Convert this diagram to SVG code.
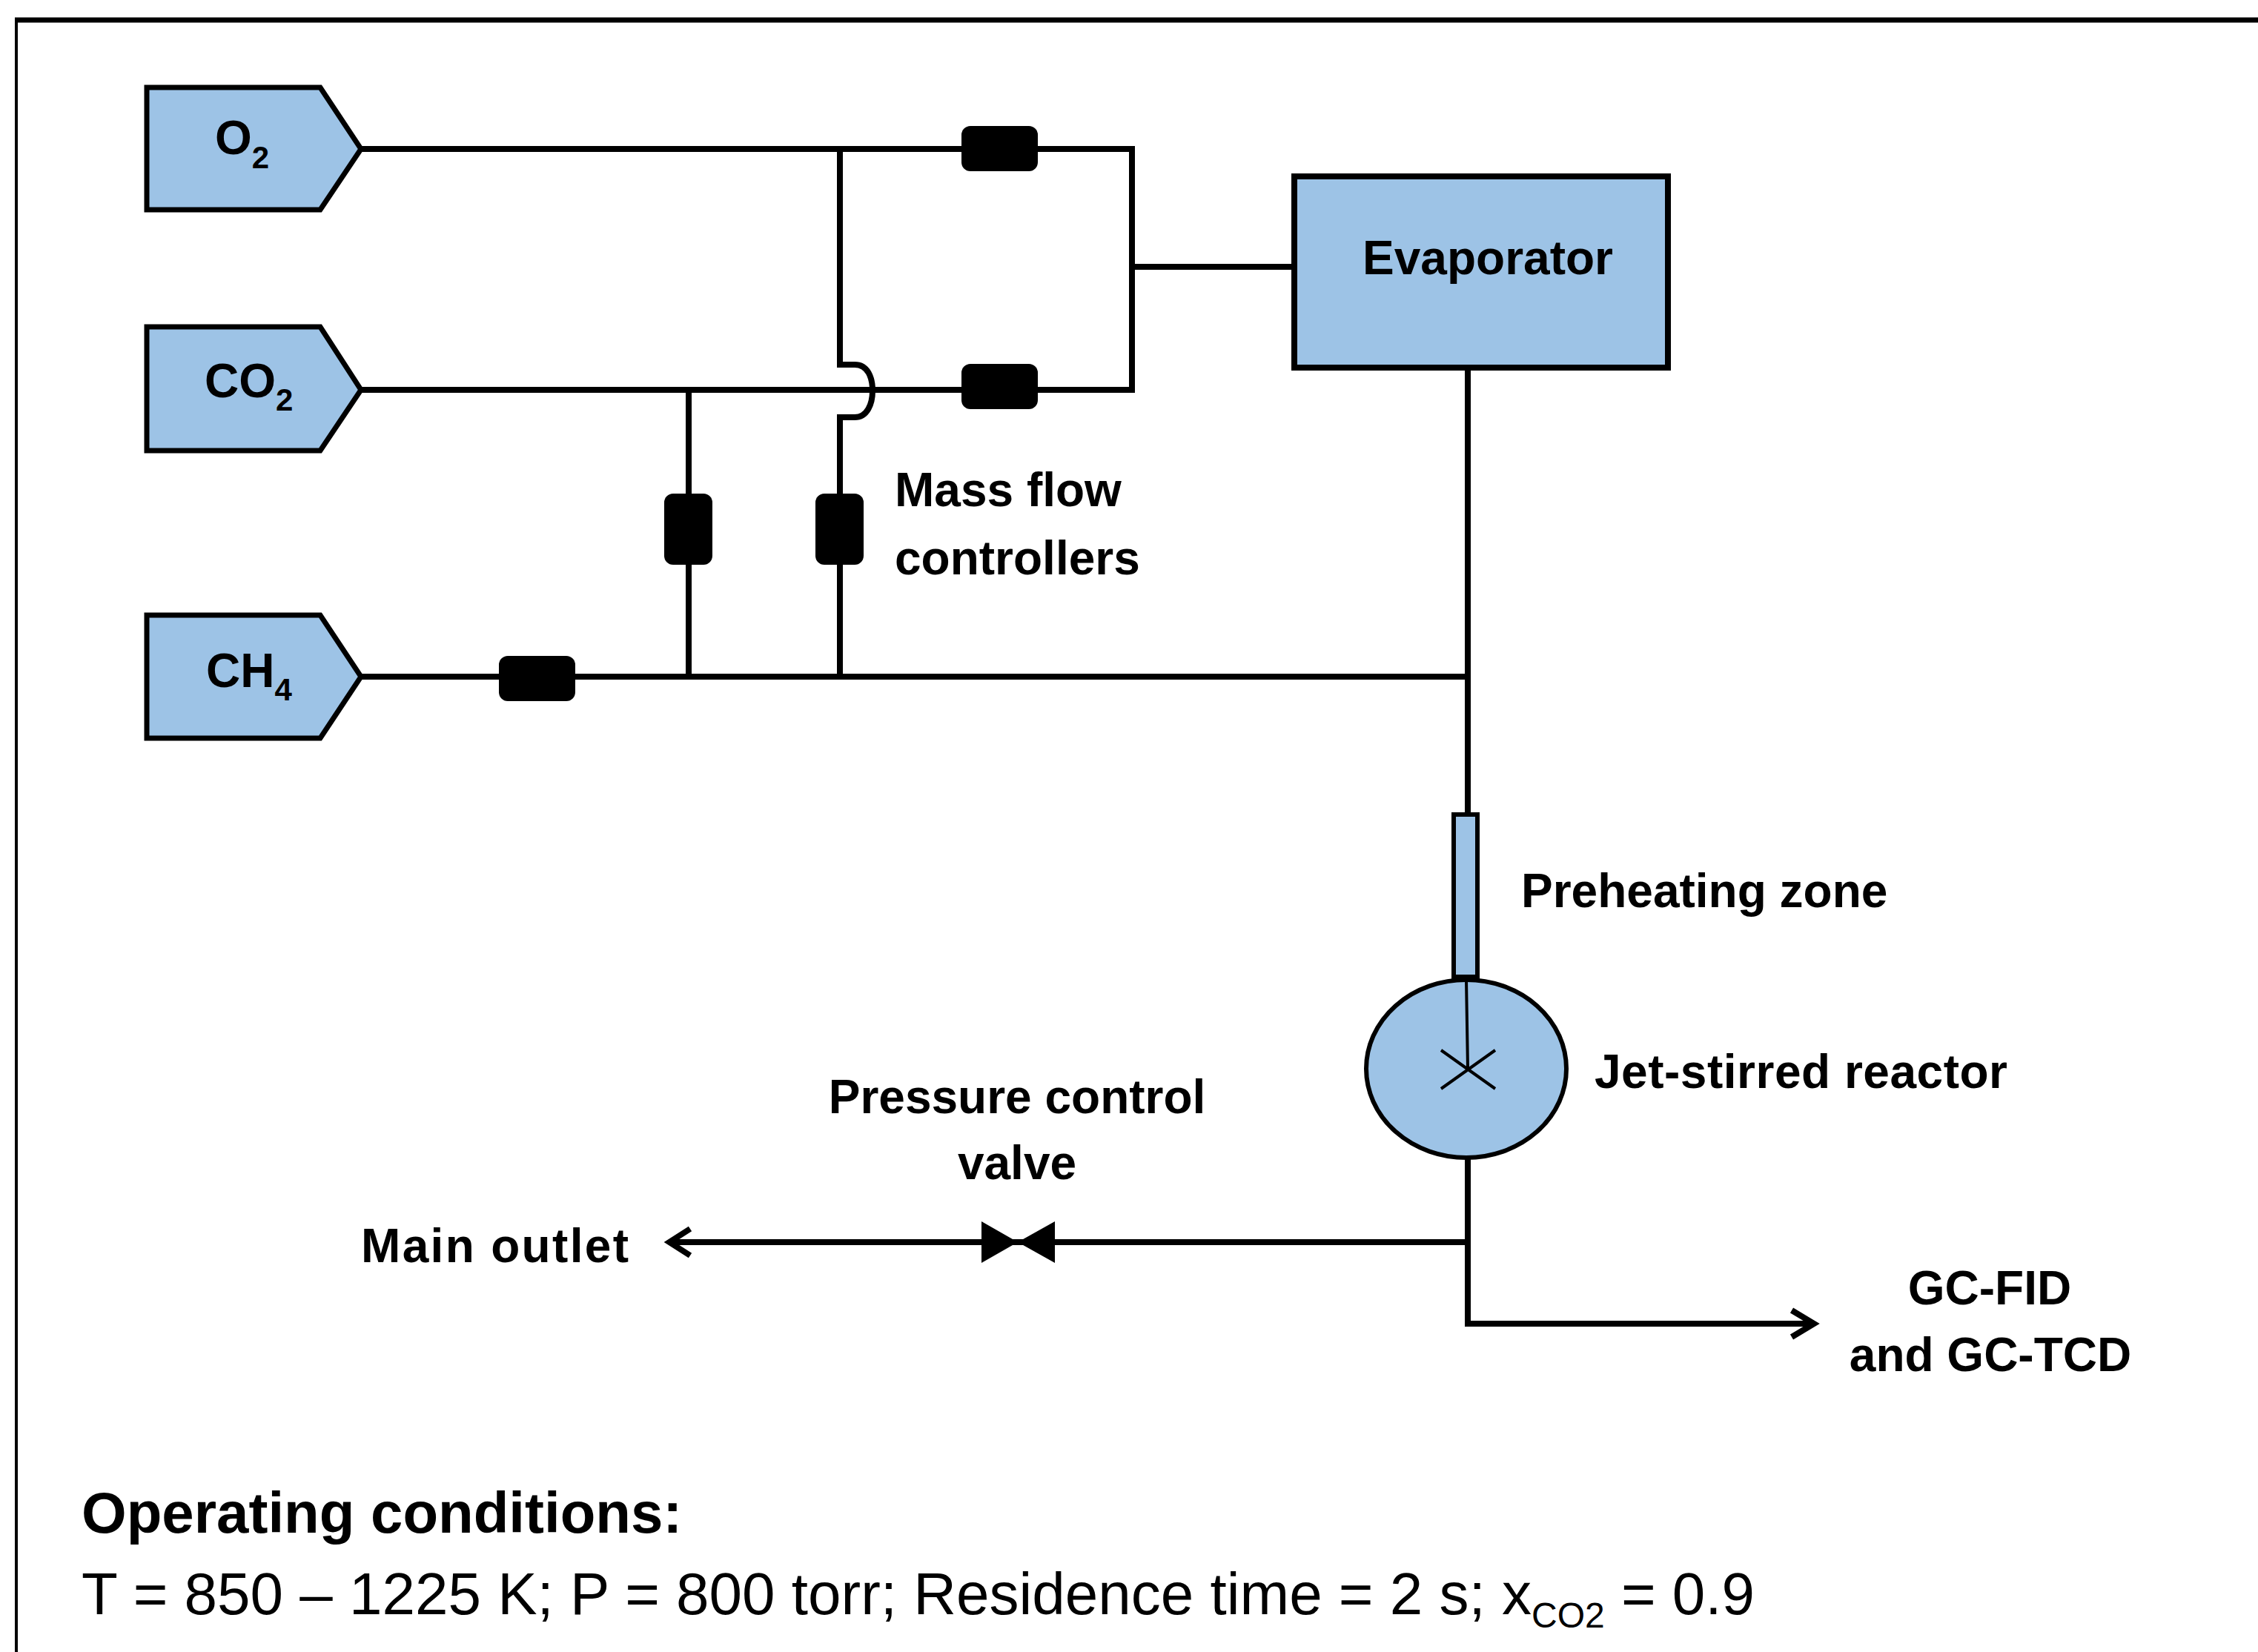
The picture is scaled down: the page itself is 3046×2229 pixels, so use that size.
<svg xmlns="http://www.w3.org/2000/svg" width="3046" height="2229" viewBox="0 0 3046 2229">
<style>
.bg{fill:#ffffff}
.src{fill:#9DC3E6;stroke:#000;stroke-width:7;stroke-linejoin:miter}
.blue{fill:#9DC3E6;stroke:#000}
.pipe{fill:none;stroke:#000;stroke-width:8;stroke-linejoin:miter;stroke-linecap:butt}
.thin{fill:none;stroke:#000;stroke-width:4}
.mfc{fill:#000}
.lbl{font-family:"Liberation Sans",Arial,sans-serif;font-weight:bold;font-size:64px;fill:#000}
.chem{font-family:"Liberation Sans",Arial,sans-serif;font-weight:bold;font-size:64px;fill:#000}
.sub{font-size:42px}
.cond{font-family:"Liberation Sans",Arial,sans-serif;fill:#000}
</style>
<rect class="bg" x="0" y="0" width="3046" height="2229"/>
<g id="frame">
<line x1="20" y1="27" x2="3046" y2="27" stroke="#000" stroke-width="7"/>
<line x1="22" y1="27" x2="22" y2="2229" stroke="#000" stroke-width="4"/>
</g>
<g id="connectors">
<path class="pipe" d="M487,201 H1527 V526 H487"/>
<path class="pipe" d="M1527,360 H1746"/>
<path class="pipe" d="M929,526 V913"/>
<path class="pipe" d="M1133,201 V492 H1153 C1171,492 1177,510 1177,527 C1177,545 1170,563 1153,563 H1133 V913"/>
<path class="pipe" d="M487,913 H1980"/>
<path class="pipe" d="M1980,496 V1099"/>
<path class="pipe" d="M1980,1562 V1786 H2445"/>
<path class="pipe" d="M1980,1676 H905"/>
<path class="pipe" d="M2417,1768 L2447,1786 L2417,1804"/>
<path class="pipe" d="M931,1658 L903,1676 L931,1694"/>
</g>
<g id="mfc-o2"><rect class="mfc" x="1297" y="170" width="103" height="61" rx="12"/></g>
<g id="mfc-co2"><rect class="mfc" x="1297" y="491" width="103" height="61" rx="12"/></g>
<g id="mfc-ch4"><rect class="mfc" x="673" y="885" width="103" height="61" rx="12"/></g>
<g id="mfc-v1"><rect class="mfc" x="896" y="666" width="65" height="96" rx="12"/></g>
<g id="mfc-v2"><rect class="mfc" x="1100" y="666" width="65" height="96" rx="12"/></g>
<g id="mfc-label">
<text class="lbl" x="1207" y="683">Mass flow</text>
<text class="lbl" x="1207" y="775">controllers</text>
</g>
<g id="o2">
<polygon class="src" points="198,118 432,118 487,201 432,283 198,283"/>
<text class="chem" x="290" y="208">O<tspan class="sub" dy="19">2</tspan></text>
</g>
<g id="co2">
<polygon class="src" points="198,441 432,441 487,526 432,608 198,608"/>
<text class="chem" x="276" y="536">CO<tspan class="sub" dy="18">2</tspan></text>
</g>
<g id="ch4">
<polygon class="src" points="198,830 432,830 487,913 432,996 198,996"/>
<text class="chem" x="278" y="927">CH<tspan class="sub" dy="18">4</tspan></text>
</g>
<g id="evaporator">
<rect class="blue" x="1746" y="238" width="504" height="258" stroke-width="8"/>
<text class="lbl" x="2007" y="370" text-anchor="middle">Evaporator</text>
</g>
<g id="preheating">
<rect class="blue" x="1961" y="1099" width="32" height="219" stroke-width="6"/>
<text class="lbl" x="2052" y="1224">Preheating zone</text>
</g>
<g id="reactor">
<ellipse class="blue" cx="1978" cy="1442" rx="135" ry="120" stroke-width="6"/>
<path class="thin" d="M1978,1322 L1980,1442 M1944,1417 L2017,1469 M2017,1417 L1944,1469"/>
<text class="lbl" x="2151" y="1468" textLength="557">Jet-stirred reactor</text>
</g>
<g id="valve">
<path class="mfc" d="M1324,1648 L1373,1676 L1324,1704 Z M1423,1648 L1373,1676 L1423,1704 Z"/>
<text class="lbl" x="1372" y="1502" text-anchor="middle">Pressure control</text>
<text class="lbl" x="1372" y="1591" text-anchor="middle">valve</text>
</g>
<g id="main-outlet">
<text class="lbl" x="487" y="1703" textLength="361">Main outlet</text>
</g>
<g id="gc">
<text class="lbl" x="2684" y="1760" text-anchor="middle">GC-FID</text>
<text class="lbl" x="2685" y="1850" text-anchor="middle">and GC-TCD</text>
</g>
<g id="conditions">
<text class="cond" x="110" y="2068" font-size="78" font-weight="bold">Operating conditions:</text>
<text class="cond" x="110" y="2178" font-size="80">T = 850 – 1225 K; P = 800 torr; Residence time = 2 s; x<tspan font-size="48" dy="18">CO2</tspan><tspan dy="-18"> = 0.9</tspan></text>
</g>
</svg>
